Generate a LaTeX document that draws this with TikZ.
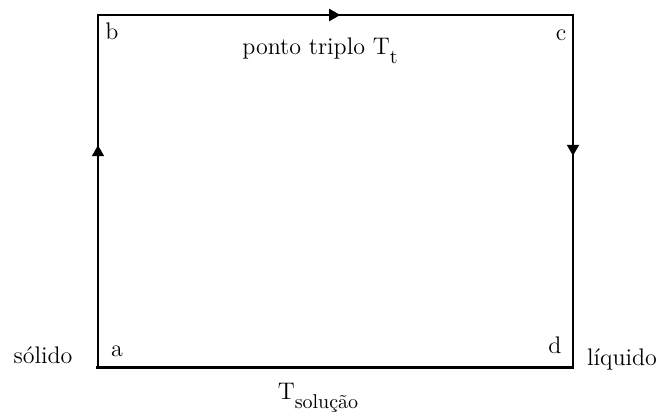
\documentclass[tikz,border=0pt]{standalone}
\usetikzlibrary{arrows.meta,decorations.markings}
\newcommand{\lowsub}[1]{\raisebox{-4.5pt}{\fontsize{10}{12}\selectfont #1}}
\begin{document}
\begin{tikzpicture}[
  x=0.5pt, y=-0.5pt,
  lbl/.style={font=\fontsize{12}{14}\selectfont, inner sep=0pt},
  side/.style={line width=1pt, line cap=rect},
  midarrow/.style={postaction={decorate}, decoration={markings,
    mark=at position #1 with {\arrow{Triangle[length=5.5pt,width=6pt]}}}}
]
\useasboundingbox (0,0) rectangle (661,414);
% corners of the cycle
\coordinate (ca) at (98,367);
\coordinate (cb) at (98,15);
\coordinate (cc) at (573,15);
\coordinate (cd) at (573,367);
\draw[side, midarrow=0.63] (ca) -- (cb);
\draw[side, midarrow=0.51] (cb) -- (cc);
\draw[side, midarrow=0.40] (cc) -- (cd);
\draw[side, line width=1.5pt] (cd) -- (ca);
% corner letters
\node[lbl] (a) at (117,351) {a};
\node[lbl] (b) at (112,31) {b};
\node[lbl] (c) at (561,35) {c};
\node[lbl] (d) at (555,345) {d};
% phases and temperatures
\node[lbl] (solido) at (43,355) {sólido};
\node[lbl, anchor=base] (liquido) at (622,365) {líquido};
\node[lbl, anchor=base] (triplo) at (320,54) {ponto triplo T\lowsub{t}};
\node[lbl, anchor=base] (solucao) at (318,399) {T\lowsub{solução}};
\end{tikzpicture}
\end{document}
